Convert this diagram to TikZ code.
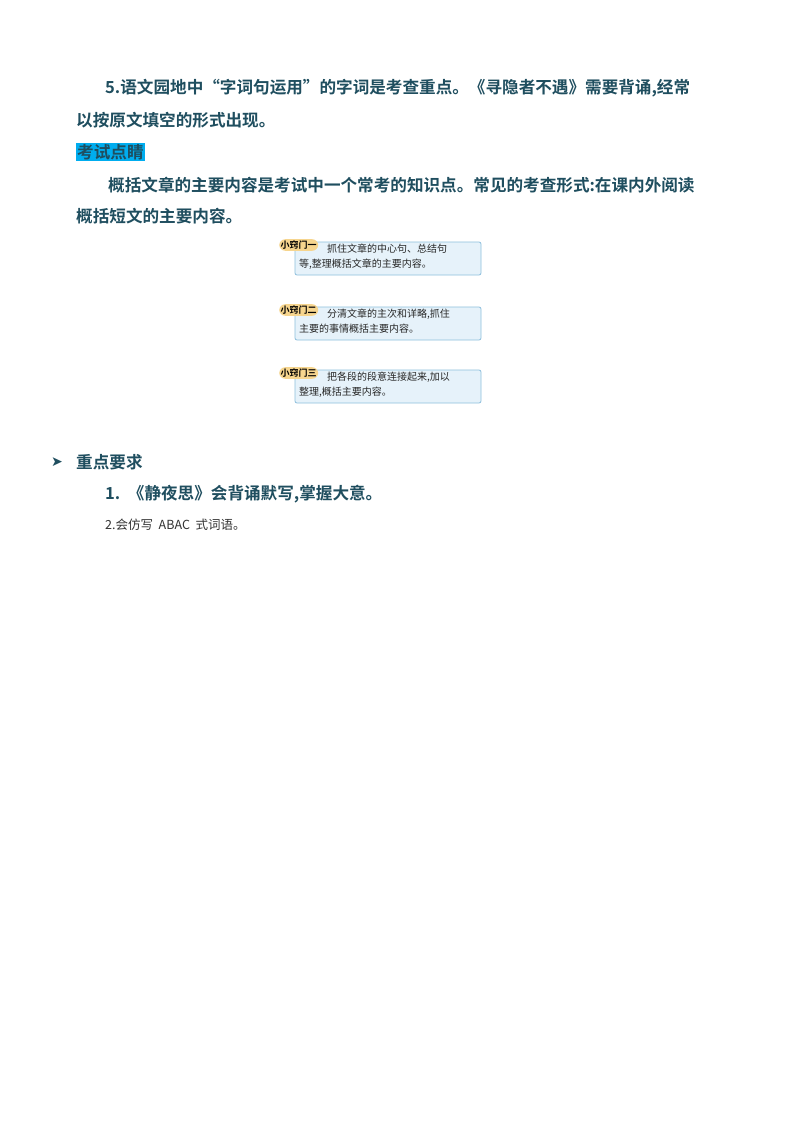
\documentclass[tikz,border=0pt]{standalone}
\usepackage{fontspec}
\newfontfamily\cjk{Noto Sans CJK SC}
\newfontfamily\cjkb{Noto Sans CJK SC Bold}
\definecolor{teal}{HTML}{1F4E5F}
\definecolor{boxfill}{HTML}{E6F2FA}
\definecolor{boxline}{HTML}{8DBFDC}
\definecolor{tag}{HTML}{F6D58E}
\begin{document}
\begin{tikzpicture}[x=1pt,y=-1pt,
  body/.style={anchor=west,inner sep=0pt,font=\cjkb\fontsize{16.6}{20}\selectfont,text=teal},
  tip/.style={draw=boxline,fill=boxfill,rounded corners=2pt,line width=0.8pt},
  tagn/.style={fill=tag,rounded corners=6pt,inner sep=1.5pt,font=\cjkb\fontsize{9}{10}\selectfont,text=black},
  tiptxt/.style={anchor=north west,inner sep=0pt,font=\cjk\fontsize{10}{15}\selectfont,align=left,text=black!85}]
\useasboundingbox (0,0) rectangle (800,1132);
\fill[white] (0,0) rectangle (800,1132);
\node[body] (l1) at (105,88) {5.语文园地中“字词句运用”的字词是考查重点。《寻隐者不遇》需要背诵,经常};
\node[body] (l2) at (76,120) {以按原文填空的形式出现。};
\node[body,fill=cyan,inner sep=1pt] (l3) at (76,152) {考试点睛};
\node[body] (l4) at (108,185) {概括文章的主要内容是考试中一个常考的知识点。常见的考查形式:在课内外阅读};
\node[body] (l5) at (76,216) {概括短文的主要内容。};
\foreach \y/\n/\t/\a/\b in {242/1/一/{抓住文章的中心句、总结句}/{等,整理概括文章的主要内容。},
  307/2/二/{分清文章的主次和详略,抓住}/{主要的事情概括主要内容。},
  370/3/三/{把各段的段意连接起来,加以}/{整理,概括主要内容。}}{
  \draw[tip] (295,\y) rectangle (481,\y+33);
  \node[tagn,anchor=west] (t\n) at (279,\y+3) {小窍门\t};
  \node[tiptxt] (x\n) at (327,\y+2) {\a};
  \node[tiptxt] (y\n) at (299,\y+17) {\b};
}
\node[anchor=center,inner sep=0pt,font=\fontspec{DejaVu Sans}\fontsize{14}{14}\selectfont,text=teal] (bul) at (57,462) {➤};
\node[body] (h) at (76,462) {重点要求};
\node[body] (r1) at (105,494) {1.\ \ 《静夜思》会背诵默写,掌握大意。};
\node[anchor=west,inner sep=0pt,font=\cjk\fontsize{12.5}{14}\selectfont,text=black!80] (r2) at (105,525) {2.会仿写\ \ ABAC\ \ 式词语。};
\end{tikzpicture}
\end{document}
